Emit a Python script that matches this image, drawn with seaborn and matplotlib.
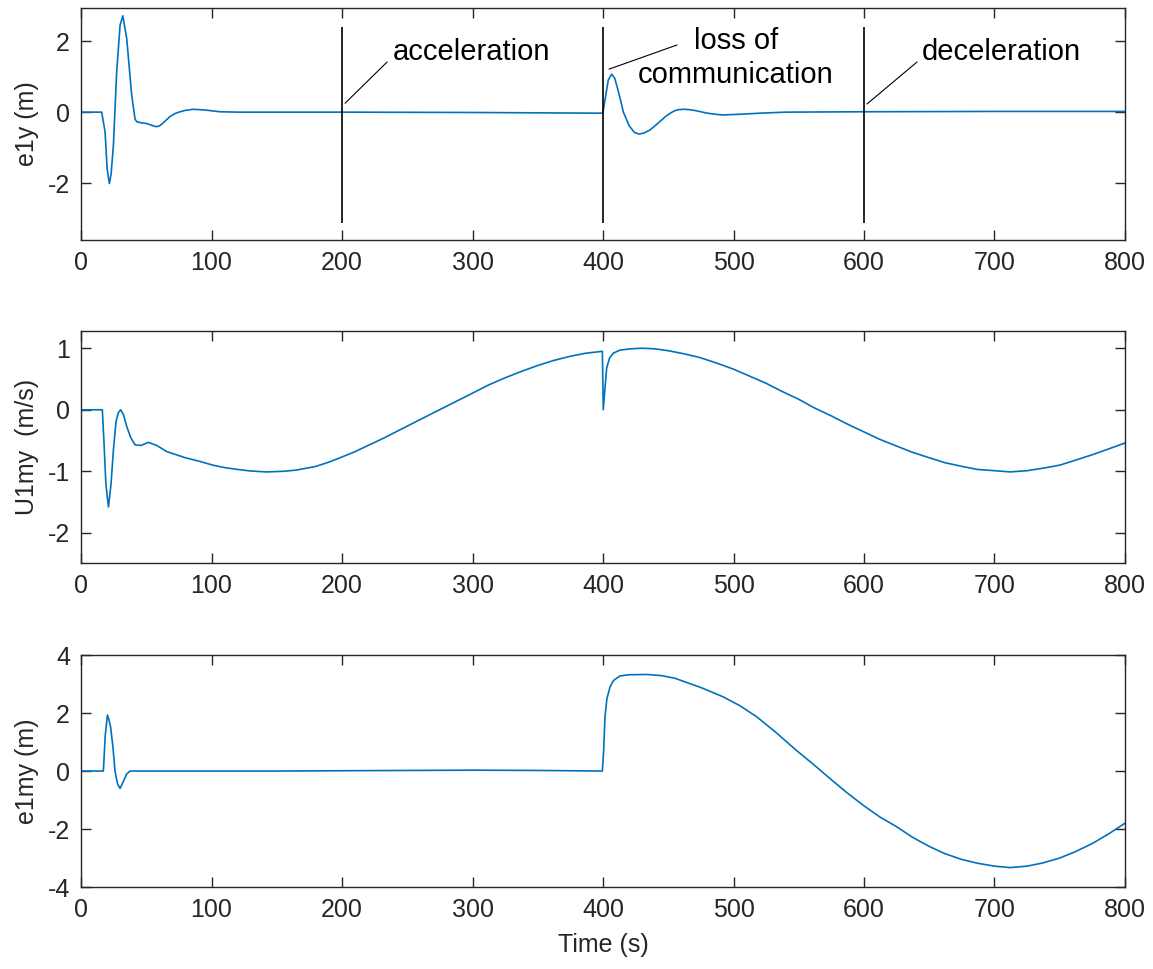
import numpy as np
import pandas as pd
import matplotlib
matplotlib.use("Agg")
import matplotlib.pyplot as plt
import seaborn as sns

# e1y (m) -- lateral tracking error
e1y_t = [0, 15.8, 18.4, 20, 21.7, 23, 24.8, 27.3, 29.9, 32, 35, 38.8, 41.4, 42.7,
         46, 50.3, 54, 57.5, 60, 63, 68, 72, 75, 80, 86, 95, 106.5, 120, 200, 300,
         399.5, 400, 402, 404, 406.6, 409, 412, 415.6, 420, 424, 427.8, 432, 436,
         440, 444, 448, 452, 455, 458, 462, 466, 470, 475, 480, 486, 492, 498,
         505, 520, 540, 600, 700, 800]
e1y_v = [0, 0, -0.55, -1.6, -2.01, -1.75, -0.93, 1.13, 2.45, 2.71, 2.07, 0.48, -0.2,
         -0.27, -0.3, -0.32, -0.37, -0.41, -0.39, -0.3, -0.13, -0.04, 0.0, 0.05, 0.08,
         0.06, 0.01, 0.0, 0.0, -0.01, -0.03, 0.0, 0.45, 0.9, 1.07, 0.95, 0.55, 0.0,
         -0.38, -0.57, -0.62, -0.58, -0.5, -0.38, -0.25, -0.12, -0.02, 0.04, 0.07,
         0.08, 0.07, 0.05, 0.01, -0.03, -0.06, -0.08, -0.07, -0.06, -0.03, 0.0, 0.01,
         0.02, 0.02]

# U1my (m/s)
u1my_t = [0, 16.3, 17.5, 19, 21, 23, 24.8, 26.8, 28.5, 30.4, 32.5, 35, 38, 41.4, 46,
          51.6, 58, 65.7, 80, 91.2, 101, 110, 120, 130, 142, 155, 165, 180, 190,
          198.5, 210, 220, 232, 244, 257, 270, 285, 300, 312, 325, 337, 350, 362,
          375, 387, 399.5, 400.2, 401.5, 402.8, 405, 407.9, 413, 420.7, 430, 440,
          450, 462, 474, 487, 500, 512, 525, 537, 550, 562, 575, 587, 600, 612, 625,
          637, 650, 662, 675, 687, 700, 712, 725, 737, 750, 762, 775, 787, 800]
u1my_v = [0, 0, -0.5, -1.2, -1.58, -1.2, -0.65, -0.19, -0.05, 0.0, -0.08, -0.27, -0.45,
          -0.57, -0.58, -0.53, -0.58, -0.68, -0.78, -0.84, -0.9, -0.94, -0.97, -0.995,
          -1.01, -1.0, -0.98, -0.92, -0.85, -0.78, -0.68, -0.58, -0.46, -0.33, -0.19,
          -0.05, 0.11, 0.27, 0.4, 0.52, 0.62, 0.72, 0.8, 0.87, 0.92, 0.95, 0.0, 0.35,
          0.68, 0.84, 0.92, 0.97, 0.99, 1.0, 0.99, 0.96, 0.91, 0.85, 0.76, 0.66, 0.55,
          0.43, 0.3, 0.17, 0.03, -0.1, -0.23, -0.36, -0.48, -0.59, -0.69, -0.78, -0.86,
          -0.92, -0.97, -0.99, -1.01, -0.99, -0.95, -0.9, -0.82, -0.73, -0.64, -0.54]

# e1my (m)
e1my_t = [0, 17.1, 18.5, 20.2, 21.5, 22.7, 24.5, 26, 28, 29.9, 32, 35, 37.5, 60, 150,
          250, 300, 350, 399.5, 400.5, 401.5, 403, 405.4, 408, 413, 420, 433.5, 445,
          455, 465, 475, 492, 505, 517.8, 532, 548, 562, 575, 587, 600, 612, 625,
          637, 650, 662, 675, 687, 700, 712, 725, 737, 750, 762, 775, 787, 800]
e1my_v = [0, 0, 1.2, 1.93, 1.75, 1.5, 0.8, 0.0, -0.45, -0.6, -0.4, -0.1, 0.0, 0.0, 0.0,
          0.02, 0.03, 0.02, 0.0, 0.72, 1.87, 2.5, 2.9, 3.12, 3.28, 3.32, 3.33, 3.29,
          3.2, 3.04, 2.88, 2.56, 2.25, 1.87, 1.35, 0.72, 0.2, -0.3, -0.75, -1.2,
          -1.58, -1.92, -2.28, -2.6, -2.85, -3.05, -3.18, -3.28, -3.33, -3.28, -3.17,
          -3.0, -2.78, -2.5, -2.18, -1.8]

event_times = [200, 400, 600]
event_labels = ["acceleration", "loss of\ncommunication", "deceleration"]

sns.set_style("ticks")
plt.rcParams["font.family"] = ["Liberation Sans", "DejaVu Sans"]
plt.rcParams["axes.unicode_minus"] = False

line_col = "#0072BD"
dark = "#262626"

fig = plt.figure(figsize=(11.53, 9.69), dpi=100)
left, width, height = 0.0703, 0.9054, 0.2394
ax1 = fig.add_axes([left, 0.7523, width, height])
ax2 = fig.add_axes([left, 0.4190, width, height])
ax3 = fig.add_axes([left, 0.0846, width, height])

sns.lineplot(x=e1y_t, y=e1y_v, ax=ax1, color=line_col, linewidth=1.2, sort=False)
sns.lineplot(x=u1my_t, y=u1my_v, ax=ax2, color=line_col, linewidth=1.2, sort=False)
sns.lineplot(x=e1my_t, y=e1my_v, ax=ax3, color=line_col, linewidth=1.2, sort=False)

ax1.vlines(event_times, -3.13, 2.4, color="black", linewidth=1.2)

# lead lines and labels for the events
ax1.plot([202.3, 234.5], [0.25, 1.41], color="black", lw=0.8)
ax1.plot([404.6, 456.7], [1.21, 1.89], color="black", lw=0.8)
ax1.plot([602.3, 640.6], [0.23, 1.41], color="black", lw=0.8)
ax1.text(239, 1.69, event_labels[0], fontsize=21, va="center", ha="left", color="black")
ax1.text(502, 1.52, event_labels[1], fontsize=21, va="center", ha="center",
         color="black", linespacing=1.25)
ax1.text(644.4, 1.69, event_labels[2], fontsize=21, va="center", ha="left", color="black")

ax1.set_ylim(-3.6, 2.93)
ax1.set_yticks([-2, 0, 2])
ax2.set_ylim(-2.49, 1.28)
ax2.set_yticks([-2, -1, 0, 1])
ax3.set_ylim(-4, 4)
ax3.set_yticks([-4, -2, 0, 2, 4])

for ax, lab in zip([ax1, ax2, ax3], ["e1y (m)", "U1my  (m/s)", "e1my (m)"]):
    ax.set_xlim(0, 800)
    ax.set_xticks(np.arange(0, 801, 100))
    ax.tick_params(direction="in", top=True, right=True, length=7, width=1,
                   labelsize=18, color=dark, labelcolor=dark, pad=8)
    for s in ax.spines.values():
        s.set_color(dark)
        s.set_linewidth(1.0)
        s.set_visible(True)
    ax.set_ylabel(lab, fontsize=18, color=dark, labelpad=6)
    ax.set_xlabel("")

ax3.set_xlabel("Time (s)", fontsize=18, color=dark, labelpad=8)

fig.savefig("out.png", dpi=100)
